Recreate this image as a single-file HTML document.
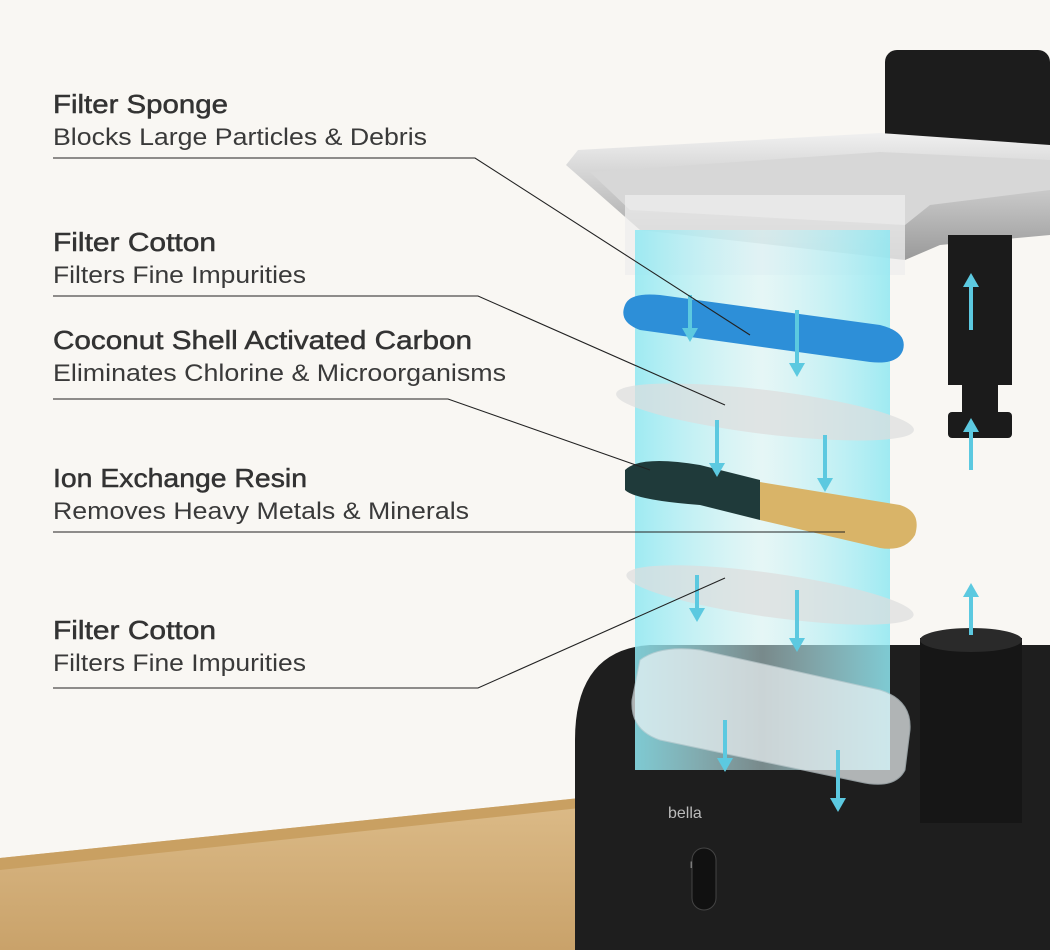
<!DOCTYPE html>
<html><head><meta charset="utf-8"><style>
html,body{margin:0;padding:0;background:#f9f7f3;}
svg{display:block}
text{font-family:"Liberation Sans",sans-serif;fill:#333}
.t{font-size:26px;fill:#333;stroke:#333;stroke-width:0.5}
.s{font-size:24px;fill:#3a3a3a}
</style></head><body>
<svg width="1050" height="950" viewBox="0 0 1050 950" xmlns="http://www.w3.org/2000/svg">
<defs>
<linearGradient id="beam" x1="0" x2="1" y1="0" y2="0">
<stop offset="0" stop-color="#8fe8f2" stop-opacity="0.85"/>
<stop offset="0.5" stop-color="#d2f5f8" stop-opacity="0.5"/>
<stop offset="1" stop-color="#8fe8f2" stop-opacity="0.85"/>
</linearGradient>
<linearGradient id="tray" x1="0" x2="0" y1="0" y2="1">
<stop offset="0" stop-color="#f0f0f0"/><stop offset="1" stop-color="#9a9a9a"/>
</linearGradient>
<linearGradient id="wood" x1="0" x2="0" y1="0" y2="1">
<stop offset="0" stop-color="#dcbb88"/><stop offset="1" stop-color="#c9a26a"/>
</linearGradient>
</defs>
<rect width="1050" height="950" fill="#f9f7f3"/>
<!-- floor -->
<polygon points="0,858 580,798 580,950 0,950" fill="url(#wood)"/>
<polygon points="0,858 580,798 580,808 0,870" fill="#c9a062"/>
<!-- base -->
<path d="M575,740 Q575,650 650,645 L1050,645 L1050,950 L575,950 Z" fill="#1e1e1e"/>
<text x="668" y="818" style="font-size:16px;fill:#bbb">bella</text>
<text x="690" y="868" style="font-size:9px;fill:#bbb">MAX</text>
<rect x="692" y="848" width="24" height="62" rx="12" fill="#111" stroke="#444"/>
<!-- cylinder -->
<rect x="920" y="638" width="102" height="185" fill="#161616"/>
<ellipse cx="971" cy="640" rx="51" ry="12" fill="#2a2a2a"/>
<!-- cap -->
<rect x="885" y="50" width="165" height="125" rx="12" fill="#1c1c1c"/>
<!-- tray -->
<path d="M566,165 L578,150 L880,133 L1050,145 L1050,235 L940,245 L905,260 L640,230 Z" fill="url(#tray)"/>
<path d="M590,172 L880,152 L1050,160 L1050,190 L930,205 L905,225 L630,210 Z" fill="#d7d7d7"/>
<rect x="625" y="195" width="280" height="80" fill="#eeeeee" opacity="0.75"/>
<!-- pipe -->
<rect x="948" y="235" width="64" height="150" fill="#1b1b1b"/>
<rect x="962" y="385" width="36" height="30" fill="#1b1b1b"/>
<rect x="948" y="412" width="64" height="26" rx="4" fill="#1b1b1b"/>
<!-- beam -->
<rect x="635" y="230" width="255" height="540" fill="url(#beam)"/>
<!-- sponge -->
<path d="M625,305 Q630,292 660,295 L880,325 Q908,332 903,350 Q898,365 870,362 L640,330 Q618,322 625,305 Z" fill="#2d8fd8"/>
<!-- cotton 1 -->
<ellipse cx="765" cy="412" rx="150" ry="22" transform="rotate(7 765 412)" fill="#ddd" opacity="0.7"/>
<!-- resin -->
<path d="M625,470 Q640,455 700,465 L760,480 L760,520 L700,505 Q635,500 625,490 Z" fill="#1f3a3a"/>
<path d="M760,482 L900,505 Q922,512 915,535 Q905,552 880,548 L760,520 Z" fill="#d9b468"/>
<!-- cotton 2 -->
<ellipse cx="770" cy="595" rx="145" ry="22" transform="rotate(8 770 595)" fill="#ddd" opacity="0.7"/>
<!-- clear box -->
<path d="M640,660 Q660,645 700,650 L880,690 Q912,700 910,730 L905,770 Q895,790 860,782 L660,740 Q630,730 632,700 Z" fill="#eef4f6" opacity="0.7" stroke="#c5d2d6"/>
<!-- arrows -->
<g stroke="#5cc9e0" stroke-width="4" fill="#5cc9e0">
<line x1="690" y1="295" x2="690" y2="330"/><polygon points="682,328 698,328 690,342" stroke="none"/>
<line x1="797" y1="310" x2="797" y2="365"/><polygon points="789,363 805,363 797,377" stroke="none"/>
<line x1="717" y1="420" x2="717" y2="465"/><polygon points="709,463 725,463 717,477" stroke="none"/>
<line x1="825" y1="435" x2="825" y2="480"/><polygon points="817,478 833,478 825,492" stroke="none"/>
<line x1="697" y1="575" x2="697" y2="610"/><polygon points="689,608 705,608 697,622" stroke="none"/>
<line x1="797" y1="590" x2="797" y2="640"/><polygon points="789,638 805,638 797,652" stroke="none"/>
<line x1="725" y1="720" x2="725" y2="760"/><polygon points="717,758 733,758 725,772" stroke="none"/>
<line x1="838" y1="750" x2="838" y2="800"/><polygon points="830,798 846,798 838,812" stroke="none"/>
<line x1="971" y1="285" x2="971" y2="330"/><polygon points="963,287 979,287 971,273" stroke="none"/>
<line x1="971" y1="430" x2="971" y2="470"/><polygon points="963,432 979,432 971,418" stroke="none"/>
<line x1="971" y1="595" x2="971" y2="635"/><polygon points="963,597 979,597 971,583" stroke="none"/>
</g>
<!-- leader lines -->
<g stroke="#222" stroke-width="1.1" fill="none">
<polyline points="53,158 475,158 750,335"/>
<polyline points="53,296 478,296 725,405"/>
<polyline points="53,399 448,399 650,470"/>
<polyline points="53,532 845,532"/>
<polyline points="53,688 478,688 725,578"/>
</g>
<!-- labels -->
<text class="t" x="53" y="113" textLength="175" lengthAdjust="spacingAndGlyphs">Filter Sponge</text>
<text class="s" x="53" y="145" textLength="374" lengthAdjust="spacingAndGlyphs">Blocks Large Particles &amp; Debris</text>
<text class="t" x="53" y="251" textLength="163" lengthAdjust="spacingAndGlyphs">Filter Cotton</text>
<text class="s" x="53" y="283" textLength="253" lengthAdjust="spacingAndGlyphs">Filters Fine Impurities</text>
<text class="t" x="53" y="349" textLength="419" lengthAdjust="spacingAndGlyphs">Coconut Shell Activated Carbon</text>
<text class="s" x="53" y="381" textLength="453" lengthAdjust="spacingAndGlyphs">Eliminates Chlorine &amp; Microorganisms</text>
<text class="t" x="53" y="487" textLength="254" lengthAdjust="spacingAndGlyphs">Ion Exchange Resin</text>
<text class="s" x="53" y="519" textLength="416" lengthAdjust="spacingAndGlyphs">Removes Heavy Metals &amp; Minerals</text>
<text class="t" x="53" y="639" textLength="163" lengthAdjust="spacingAndGlyphs">Filter Cotton</text>
<text class="s" x="53" y="671" textLength="253" lengthAdjust="spacingAndGlyphs">Filters Fine Impurities</text>
</svg>
</body></html>
